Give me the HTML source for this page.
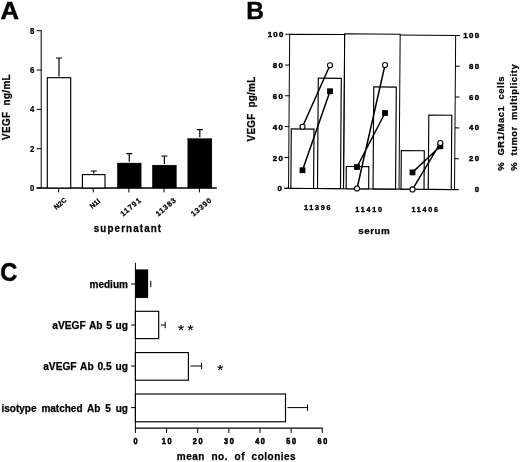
<!DOCTYPE html>
<html><head><meta charset="utf-8"><title>Figure</title>
<style>
html,body{margin:0;padding:0;background:#fff;}
body{width:520px;height:462px;overflow:hidden;}
svg{display:block;}
text{font-family:"Liberation Sans",sans-serif;font-weight:bold;fill:#000;stroke:#000;stroke-width:0.25;}
.ln{stroke:#000;stroke-width:1.2;fill:none;}
.tk{stroke:#000;stroke-width:1.0;fill:none;}
.axx{stroke:#000;stroke-width:1.5;fill:none;}
.bw{stroke:#000;stroke-width:1.15;fill:#fff;}
.bk{stroke:#000;stroke-width:0.3;fill:#000;}
.t7{font-size:7.8px;letter-spacing:1.35px;stroke-width:0.45px;}
.pl{font-size:24px;}
</style></head><body>
<svg width="520" height="462" viewBox="0 0 520 462">
<rect x="0" y="0" width="520" height="462" fill="#fff"/>

<text transform="translate(0.6 19.2) scale(1.04 1)" font-size="24.6" style="stroke-width:0.5">A</text>
<path class="tk" d="M41.2 30.2V188.0"/>
<path class="axx" d="M36.7 188.0H216.8"/>
<path class="tk" d="M36.7 188.00H41.2"/>
<text transform="translate(34.4 191.00) scale(0.93 1)" font-size="8.4" text-anchor="end">0</text>
<path class="tk" d="M36.7 148.68H41.2"/>
<text transform="translate(34.4 151.68) scale(0.93 1)" font-size="8.4" text-anchor="end">2</text>
<path class="tk" d="M36.7 109.35H41.2"/>
<text transform="translate(34.4 112.35) scale(0.93 1)" font-size="8.4" text-anchor="end">4</text>
<path class="tk" d="M36.7 70.02H41.2"/>
<text transform="translate(34.4 73.02) scale(0.93 1)" font-size="8.4" text-anchor="end">6</text>
<path class="tk" d="M36.7 30.70H41.2"/>
<text transform="translate(34.4 33.70) scale(0.93 1)" font-size="8.4" text-anchor="end">8</text>
<path class="ln" d="M59.0 76.5V58M56.0 58H62.0"/>
<rect class="bw" x="47.3" y="77.7" width="23.400000000000006" height="110.3"/>
<path class="tk" d="M58.6 188.0V192.4"/>
<text font-size="6.9" letter-spacing="0.15" text-anchor="middle" transform="translate(60.1 203.4) rotate(-40)" y="2.6">N2C</text>
<path class="ln" d="M93.7 173.4V171M90.7 171H96.7"/>
<rect class="bw" x="82.4" y="174.6" width="22.599999999999994" height="13.400000000000006"/>
<path class="tk" d="M93.3 188.0V192.4"/>
<text font-size="6.9" letter-spacing="0.15" text-anchor="middle" transform="translate(94.8 203.4) rotate(-40)" y="2.6">N1l</text>
<path class="ln" d="M129.25 161.8V153.6M126.25 153.6H132.25"/>
<rect class="bk" x="117.3" y="163.0" width="23.89999999999999" height="25.0"/>
<path class="tk" d="M128.85 188.0V192.4"/>
<text font-size="7.5" letter-spacing="0.85" text-anchor="middle" transform="translate(130.85 206.8) rotate(-40)" y="2.6">11791</text>
<path class="ln" d="M164.4 163.9V156M161.4 156H167.4"/>
<rect class="bk" x="152.3" y="165.1" width="24.19999999999999" height="22.900000000000006"/>
<path class="tk" d="M164.0 188.0V192.4"/>
<text font-size="7.5" letter-spacing="0.85" text-anchor="middle" transform="translate(166.0 206.8) rotate(-40)" y="2.6">11383</text>
<path class="ln" d="M199.8 137.3V129.7M196.8 129.7H202.8"/>
<rect class="bk" x="187.7" y="138.5" width="24.200000000000017" height="49.5"/>
<path class="tk" d="M199.4 188.0V192.4"/>
<text font-size="7.5" letter-spacing="0.85" text-anchor="middle" transform="translate(201.4 206.8) rotate(-40)" y="2.6">13390</text>
<text transform="translate(93.8 232.4) scale(1 1.05)" font-size="9.8" letter-spacing="1.13">supernatant</text>
<text font-size="9.9" letter-spacing="0.35" transform="translate(9.8 140) rotate(-90) scale(1 1.06)" style="white-space:pre">VEGF  ng/mL</text>
<text x="246.2" y="19.1" font-size="24.6" style="stroke-width:0.4">B</text>
<g transform="rotate(0.42 372 111)">
<path class="ln" d="M284.90000000000003 188.9H458.70000000000005"/>
<path class="tk" d="M289.1 188.9V34.8H344.1V188.9"/>
<path class="tk" d="M344.1 188.9V34.0H399.6V188.9"/>
<path class="tk" d="M399.6 34.8H455.1V188.9"/>
<path class="tk" d="M284.8 188.90H289.1M455.1 188.90H459.40000000000003"/>
<path class="tk" d="M284.8 158.08H289.1M455.1 158.08H459.40000000000003"/>
<path class="tk" d="M284.8 127.26H289.1M455.1 127.26H459.40000000000003"/>
<path class="tk" d="M284.8 96.44H289.1M455.1 96.44H459.40000000000003"/>
<path class="tk" d="M284.8 65.62H289.1M455.1 65.62H459.40000000000003"/>
<path class="tk" d="M284.8 34.80H289.1M455.1 34.80H459.40000000000003"/>
<rect class="bw" x="291.43" y="129.49" width="22.70" height="59.41"/>
<rect class="bw" x="318.06" y="78.59" width="23.00" height="110.31"/>
<rect class="bw" x="346.71" y="166.69" width="22.50" height="22.21"/>
<rect class="bw" x="373.62" y="86.89" width="22.50" height="102.01"/>
<rect class="bw" x="401.59" y="150.38" width="23.00" height="38.52"/>
<rect class="bw" x="428.83" y="114.68" width="23.00" height="74.22"/>
</g>
<path class="ln" style="stroke-width:1.5" d="M302.5 126.75L330 65.25M302.5 170.25L330 91.25"/>
<path class="ln" style="stroke-width:1.5" d="M357 188.5L385 65M357 167L385 113"/>
<path class="ln" style="stroke-width:1.5" d="M412.5 189.4L440.3 143.1M412.5 172.4L440.3 146.3"/>
<rect x="299.6" y="167.35" width="5.8" height="5.8" fill="#000"/>
<rect x="327.1" y="88.35" width="5.8" height="5.8" fill="#000"/>
<circle cx="302.5" cy="126.75" r="2.55" fill="#fff" stroke="#000" stroke-width="1.1"/>
<circle cx="330" cy="65.25" r="2.55" fill="#fff" stroke="#000" stroke-width="1.1"/>
<rect x="354.1" y="164.1" width="5.8" height="5.8" fill="#000"/>
<rect x="382.1" y="110.1" width="5.8" height="5.8" fill="#000"/>
<circle cx="357" cy="188.5" r="2.55" fill="#fff" stroke="#000" stroke-width="1.1"/>
<circle cx="385" cy="65" r="2.55" fill="#fff" stroke="#000" stroke-width="1.1"/>
<rect x="409.6" y="169.5" width="5.8" height="5.8" fill="#000"/>
<rect x="437.40000000000003" y="143.4" width="5.8" height="5.8" fill="#000"/>
<circle cx="412.5" cy="189.4" r="2.55" fill="#fff" stroke="#000" stroke-width="1.1"/>
<circle cx="440.3" cy="143.1" r="2.55" fill="#fff" stroke="#000" stroke-width="1.1"/>
<text class="t7" x="283.15" y="191.37" text-anchor="end">0</text>
<text class="t7" x="480.35" y="192.13" text-anchor="end">0</text>
<text class="t7" x="284.15" y="160.55" text-anchor="end">20</text>
<text class="t7" x="480.35" y="161.31" text-anchor="end">20</text>
<text class="t7" x="284.15" y="129.73" text-anchor="end">40</text>
<text class="t7" x="480.35" y="130.49" text-anchor="end">40</text>
<text class="t7" x="284.15" y="98.91" text-anchor="end">60</text>
<text class="t7" x="480.35" y="99.67" text-anchor="end">60</text>
<text class="t7" x="284.15" y="68.09" text-anchor="end">80</text>
<text class="t7" x="480.35" y="68.85" text-anchor="end">80</text>
<text class="t7" x="284.75" y="37.27" text-anchor="end">100</text>
<text class="t7" x="480.35" y="38.03" text-anchor="end">100</text>
<text x="303.9" y="210.2" font-size="7.2" letter-spacing="1.75" style="stroke-width:0.35">11396</text>
<text x="355.3" y="211.5" font-size="7.2" letter-spacing="1.75" style="stroke-width:0.35">11410</text>
<text x="411.5" y="211.5" font-size="7.2" letter-spacing="1.75" style="stroke-width:0.35">11406</text>
<text x="358.3" y="234.1" font-size="9.8" letter-spacing="0.5">serum</text>
<text font-size="9.9" letter-spacing="0.25" transform="translate(255.4 141.4) rotate(-90) scale(1 1.06)" style="white-space:pre">VEGF  pg/mL</text>
<text font-size="9.4" letter-spacing="0.55" transform="translate(504 170.7) rotate(-90)" style="white-space:pre">%  GR1/Mac1  cells</text>
<text font-size="9.4" letter-spacing="0.55" transform="translate(516.9 170.7) rotate(-90)" style="white-space:pre">%  tumor  multiplicity</text>
<text transform="translate(0.3 280.8) scale(1 1.07)" font-size="23.6" style="stroke-width:0.5">C</text>
<path class="tk" d="M135.4 262.8V428.2"/>
<path class="ln" d="M134.9 428.2H322.80"/>
<path class="tk" d="M135.40 428.2V433.0"/>
<text transform="translate(136.25 443.8) scale(0.96 1.1)" font-size="7.6" letter-spacing="1.75" text-anchor="middle" style="stroke-width:0.5">0</text>
<path class="tk" d="M166.55 428.2V433.0"/>
<text transform="translate(167.40 443.8) scale(0.96 1.1)" font-size="7.6" letter-spacing="1.75" text-anchor="middle" style="stroke-width:0.5">10</text>
<path class="tk" d="M197.70 428.2V433.0"/>
<text transform="translate(198.55 443.8) scale(0.96 1.1)" font-size="7.6" letter-spacing="1.75" text-anchor="middle" style="stroke-width:0.5">20</text>
<path class="tk" d="M228.85 428.2V433.0"/>
<text transform="translate(229.70 443.8) scale(0.96 1.1)" font-size="7.6" letter-spacing="1.75" text-anchor="middle" style="stroke-width:0.5">30</text>
<path class="tk" d="M260.00 428.2V433.0"/>
<text transform="translate(260.85 443.8) scale(0.96 1.1)" font-size="7.6" letter-spacing="1.75" text-anchor="middle" style="stroke-width:0.5">40</text>
<path class="tk" d="M291.15 428.2V433.0"/>
<text transform="translate(292.00 443.8) scale(0.96 1.1)" font-size="7.6" letter-spacing="1.75" text-anchor="middle" style="stroke-width:0.5">50</text>
<path class="tk" d="M322.30 428.2V433.0"/>
<text transform="translate(323.15 443.8) scale(0.96 1.1)" font-size="7.6" letter-spacing="1.75" text-anchor="middle" style="stroke-width:0.5">60</text>
<path class="tk" d="M150 284H150.8M150.8 280.8V287.2"/>
<rect class="bk" x="135.4" y="269.6" width="12.60" height="28.30"/>
<path class="tk" d="M131.1 284H135.4"/>
<text x="127.9" y="287.6" font-size="10" word-spacing="0" text-anchor="end">medium</text>
<path class="tk" d="M160.7 325H165.2M165.2 321.8V328.2"/>
<rect class="bw" x="135.4" y="311.3" width="23.30" height="27.30"/>
<path class="tk" d="M131.1 325H135.4"/>
<text x="127.9" y="329.1" font-size="10.2" word-spacing="0.8" text-anchor="end">aVEGF Ab 5 ug</text>
<path class="tk" d="M190.4 366H201.6M201.6 362.8V369.2"/>
<rect class="bw" x="135.4" y="352.6" width="53.00" height="27.60"/>
<path class="tk" d="M131.1 366H135.4"/>
<text x="127.9" y="370.4" font-size="10.2" word-spacing="1.0" text-anchor="end">aVEGF Ab 0.5 ug</text>
<path class="tk" d="M287.5 407.6H307.5M307.5 404.40000000000003V410.8"/>
<rect class="bw" x="135.4" y="394" width="150.10" height="27.80"/>
<path class="tk" d="M131.1 407.6H135.4"/>
<text x="127.9" y="411.7" font-size="10" word-spacing="2.1" text-anchor="end">isotype matched Ab 5 ug</text>
<text x="178.1" y="335.1" font-size="15.5" letter-spacing="3.3" style="font-weight:normal;stroke-width:0.2">**</text>
<text x="217.3" y="374.9" font-size="15.5" style="font-weight:normal;stroke-width:0.2">*</text>
<text x="176.8" y="459.9" font-size="10" letter-spacing="0.5" word-spacing="3.3" style="white-space:pre">mean no. of colonies</text>
</svg></body></html>
